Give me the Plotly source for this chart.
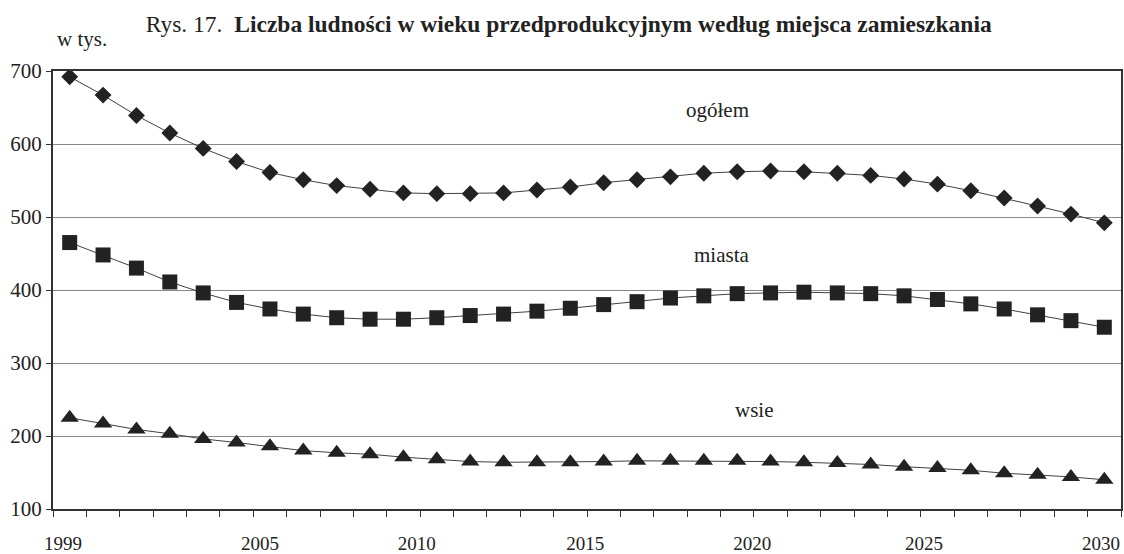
import plotly.graph_objects as go

# ---- data (thousands) ----
years = list(range(1999, 2031))
ogolem = [692, 667, 639, 615, 594, 576, 561, 551, 543, 538, 533, 532, 532, 533, 537,
          541, 547, 551, 555, 560, 562, 563, 562, 560, 557, 552, 545, 536, 526, 515, 504, 492]
miasta = [465, 448, 430, 411, 396, 383, 374, 367, 362, 360, 360, 362, 365, 367, 371,
          375, 380, 384, 389, 392, 395, 396, 397, 396, 395, 392, 387, 381, 374, 366, 358, 349]
wsie = [225, 217, 209, 203, 196, 191, 186, 180, 177, 175, 171, 168, 165, 164, 164,
        164, 165, 166, 166, 166, 166, 165, 164, 163, 161, 158, 156, 153, 149, 147, 144, 140]

series_names = ["ogółem", "miasta", "wsie"]
x_tick_text = ["1999", "2005", "2010", "2015", "2020", "2025", "2030"]
y_tick_vals = [100, 200, 300, 400, 500, 600, 700]

title_text = "Rys. 17.&nbsp; <b>Liczba ludności w wieku przedprodukcyjnym według miejsca zamieszkania</b>"
unit_text = "w tys."

# ---- layout config ----
x_tick_pos = [1998.8, 2004.7, 2009.4, 2014.45, 2019.45, 2024.6, 2029.9]
label_pos = [(2018.42, 646), (2018.54, 448), (2019.53, 236)]
FONT = "Liberation Serif"
MARK = "#222222"
LINE = "#404040"

fig = go.Figure()
for vals, sym, size in [(ogolem, "diamond", 13), (miasta, "square", 15), (wsie, "triangle-up", 16)]:
    fig.add_trace(go.Scatter(
        x=years, y=vals, mode="lines+markers",
        line=dict(color=LINE, width=1),
        marker=dict(symbol=sym, size=size, color=MARK, line=dict(width=0)),
        showlegend=False, hoverinfo="x+y",
    ))

for name, (lx, ly) in zip(series_names, label_pos):
    fig.add_annotation(x=lx, y=ly, xref="x", yref="y", text=name, showarrow=False,
                       font=dict(family=FONT, size=21, color="#222"),
                       xanchor="center", yanchor="middle")

fig.add_annotation(x=0.0274, y=1.072, xref="paper", yref="paper", text=unit_text,
                   showarrow=False, font=dict(family=FONT, size=21, color="#222"),
                   xanchor="center", yanchor="middle")

fig.update_layout(
    width=1124, height=554,
    margin=dict(l=53, r=3, t=71, b=45, autoexpand=False),
    paper_bgcolor="white", plot_bgcolor="white",
    font=dict(family=FONT, color="#222"),
    title=dict(text=title_text, x=0.506, xref="container", xanchor="center",
               y=0.9567, yref="container", yanchor="middle", automargin=False,
               font=dict(family=FONT, size=23.5, color="#222")),
    xaxis=dict(
        range=[1998.5, 2030.5], showgrid=False, zeroline=False, automargin=False,
        showline=True, mirror=True, linecolor="#333", linewidth=2,
        tickmode="array", tickvals=x_tick_pos, ticktext=x_tick_text, ticks="",
        ticklabelstandoff=16,
        tickfont=dict(family=FONT, size=19, color="#222"),
        minor=dict(tickmode="linear", tick0=1998.5, dtick=1, ticks="outside",
                   ticklen=6, tickcolor="#333", tickwidth=1, showgrid=False),
    ),
    yaxis=dict(
        range=[100, 700], tickvals=y_tick_vals, showgrid=True, automargin=False,
        gridcolor="#888", gridwidth=1, zeroline=False,
        showline=True, mirror=True, linecolor="#333", linewidth=2,
        ticks="outside", ticklen=5, tickcolor="#333",
        tickfont=dict(family=FONT, size=21, color="#222"),
    ),
)

fig.write_html("out.html", config={"displayModeBar": False},
               post_script="document.body.style.margin='0';document.body.style.overflow='hidden';")
